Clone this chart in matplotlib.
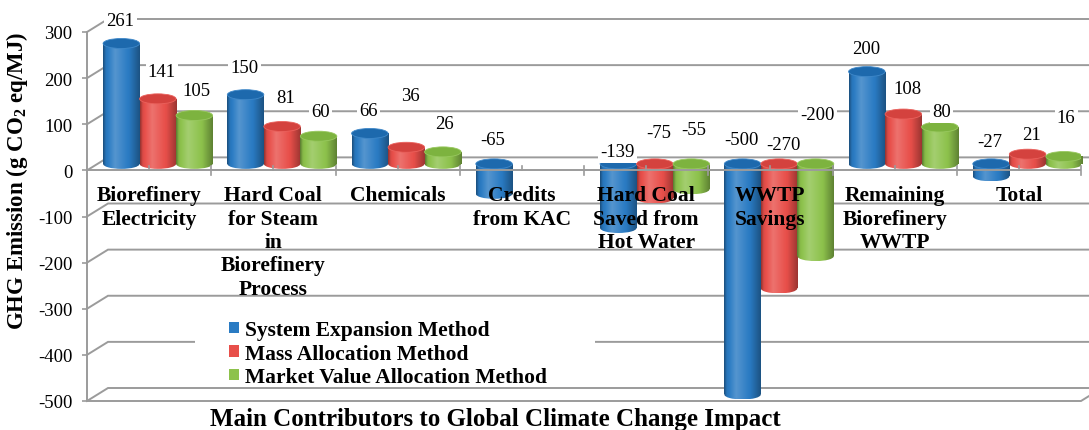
import numpy as np
import matplotlib
matplotlib.use("Agg")
import matplotlib.pyplot as plt
from matplotlib.patches import Rectangle, Ellipse, Patch
from matplotlib.colors import to_rgb

plt.rcParams["font.family"] = ["Liberation Serif", "DejaVu Serif"]
plt.rcParams["mathtext.fontset"] = "custom"
plt.rcParams["mathtext.rm"] = "Liberation Serif"
plt.rcParams["mathtext.bf"] = "Liberation Serif:bold"
plt.rcParams["axes.unicode_minus"] = False

# ---------------------------------------------------------------- data
categories = [
    "Biorefinery\nElectricity",
    "Hard Coal\nfor Steam\nin\nBiorefinery\nProcess",
    "Chemicals",
    "Credits\nfrom KAC",
    "Hard Coal\nSaved from\nHot Water",
    "WWTP\nSavings",
    "Remaining\nBiorefinery\nWWTP",
    "Total",
]
system_expansion = [261, 150, 66, -65, -139, -500, 200, -27]
mass_allocation = [141, 81, 36, np.nan, -75, -270, 108, 21]
market_value = [105, 60, 26, np.nan, -55, -200, 80, 16]
series_names = [
    "System Expansion Method",
    "Mass Allocation Method",
    "Market Value Allocation Method",
]
y_ticks = [-500, -400, -300, -200, -100, 0, 100, 200, 300]

# ---------------------------------------------------------------- styling
body_colors = ["#2a7bc3", "#e84f4a", "#8dc24c"]
cap_colors = ["#1d69ad", "#d4423e", "#7db33f"]
GRID = "#9b9b9b"

# label lift (pixels) above the visible top of each cylinder
label_rise = [
    [23, 27, 23, 24, 12, 24, 23, 22],
    [27, 29, 52, 0, 31, 19, 26, 20],
    [25, 25, 28, 0, 34, 49, 15, 39],
]
label_shift = [-1, 4, 2]

W, H = 1089, 431
fig = plt.figure(figsize=(W / 100, H / 100), dpi=100)
left, right, top, bottom = 87, 1081, 33, 402
ax = fig.add_axes([left / W, 1 - bottom / H, (right - left) / W, (bottom - top) / H])

n_cat = len(categories)
ymin, ymax = y_ticks[0], y_ticks[-1]
px_x = (right - left) / n_cat          # pixels per category
px_y = (bottom - top) / (ymax - ymin)  # pixels per unit
DX = 21 / px_x                         # depth of the 3-D box
DY = 13 / px_y
BW = 36.5 / px_x                       # cylinder diameter
EH = 10 / px_y                         # ellipse height of a cylinder end
group_shift = 0.07


def shading(color, n=80):
    rgb = np.array(to_rgb(color))
    t = np.linspace(0, 1, n)
    f = np.interp(t, [0, 0.07, 0.33, 0.72, 1.0], [-0.36, -0.06, 0.2, -0.02, -0.33])
    f = f[:, None]
    out = np.where(f > 0, rgb + (1 - rgb) * f, rgb * (1 + f))
    return np.clip(out, 0, 1)[None, :, :]


def draw_cylinder(xc, value, body, cap, z):
    y_base = DY / 2
    y_end = value + DY / 2
    lo, hi = min(y_base, y_end), max(y_base, y_end)
    x0 = xc - BW / 2
    grad = shading(body)
    foot = Ellipse((xc, lo), BW, EH, facecolor="none", edgecolor="none", zorder=z)
    shaft = Rectangle((x0, lo), BW, hi - lo, facecolor="none", edgecolor="none", zorder=z)
    for patch in (foot, shaft):
        ax.add_patch(patch)
        im = ax.imshow(grad, extent=(x0, x0 + BW, lo - EH / 2, hi), aspect="auto",
                       interpolation="bilinear", zorder=z)
        im.set_clip_path(patch)
    ax.add_patch(Ellipse((xc, hi), BW, EH, facecolor=cap, edgecolor=shading(body)[0, 40],
                         lw=0.6, zorder=z + 0.1))


# back wall and side wall gridlines
for v in y_ticks:
    ax.plot([0, DX, n_cat + DX], [v, v + DY, v + DY], color=GRID, lw=1.4,
            clip_on=False, zorder=1, solid_joinstyle="miter")
# floor front edge
ax.plot([0, n_cat, n_cat + DX], [ymin, ymin, ymin + DY], color=GRID, lw=1.4,
        clip_on=False, zorder=1, solid_joinstyle="miter")

# legend backing
ax.add_patch(Rectangle((108 / (right - left), 14 / (bottom - top)), 400 / (right - left),
                       83 / (bottom - top), transform=ax.transAxes, facecolor="white",
                       edgecolor="none", zorder=2))

# cylinders and value labels
series = [system_expansion, mass_allocation, market_value]
for i, vals in enumerate(series):
    for k, v in enumerate(vals):
        if np.isnan(v):
            continue
        xc = k + 0.5 + (i - 1) * BW + group_shift
        draw_cylinder(xc, v, body_colors[i], cap_colors[i], 5 + 3 * k + i)
        ax.annotate(f"{v:g}", xy=(xc, max(v, 0) + DY / 2),
                    xytext=(label_shift[i], label_rise[i][k]), textcoords="offset pixels",
                    ha="center", va="center", fontsize=13.5, zorder=40,
                    bbox=dict(boxstyle="square,pad=0.12", fc="white", ec="none"))

# category axis on the zero plane
ax.plot([0, n_cat], [0, 0], color=GRID, lw=1.4, zorder=35)
tick = 4.5 / px_y
for k in range(1, n_cat + 1):
    ax.plot([k, k], [-tick, tick], color=GRID, lw=1.2, zorder=35, clip_on=False)
for k in range(n_cat):
    ax.plot([k + 0.5, k + 0.5], [0, tick], color=GRID, lw=1.2, zorder=35)
    ax.annotate(categories[k], xy=(k + 0.5, 0), xytext=(0, -15), textcoords="offset pixels",
                ha="center", va="top", multialignment="center", fontsize=15.5,
                fontweight="bold", linespacing=1.22, zorder=45)

# value axis
for s in ("top", "right", "bottom"):
    ax.spines[s].set_visible(False)
ax.spines["left"].set_color(GRID)
ax.spines["left"].set_linewidth(1.4)
ax.set_xticks([])
ax.set_yticks(y_ticks)
ax.tick_params(axis="y", direction="out", length=3.6, width=1.2, color=GRID,
               labelsize=13.5, pad=7)
ax.set_facecolor("none")

handles = [Patch(facecolor=c, edgecolor="none") for c in body_colors]
leg = ax.legend(handles, series_names, loc="upper left",
                bbox_to_anchor=((229 - left) / (right - left), (bottom - 321) / (bottom - top)),
                frameon=False, prop={"weight": "bold", "size": 15.5}, handlelength=0.45,
                handleheight=0.45, handletextpad=0.3, labelspacing=0.17, borderpad=0,
                borderaxespad=0)
leg.set_zorder(50)

fig.text(17 / W, 1 - 181 / H, "GHG Emission (g CO$_\\mathbf{2}$ eq/MJ)", rotation=90,
         ha="center", va="center", fontsize=16.5, fontweight="bold")
fig.text(495 / W, 1 - 420 / H, "Main Contributors to Global Climate Change Impact",
         ha="center", va="center", fontsize=18, fontweight="bold")

ax.set_xlim(0, n_cat)
ax.set_ylim(ymin, ymax)
fig.savefig("out.png", dpi=100)
